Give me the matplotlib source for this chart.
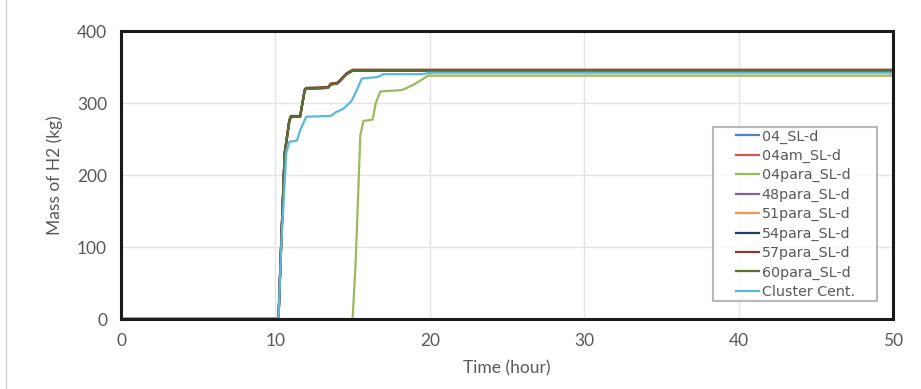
import matplotlib
matplotlib.use("Agg")
import matplotlib.pyplot as plt
from matplotlib.lines import Line2D
from matplotlib.path import Path

plt.rcParams['font.family'] = ['Lato', 'DejaVu Sans']

# Data (time in hours, mass in kg)
t_main = [0, 10.2, 10.4, 10.6, 10.9, 11.0, 11.6, 11.9, 12.0, 13.4, 13.6, 14.0, 14.2, 14.6, 15.0, 50]
m_04 = [0, 0, 120, 230, 275, 281, 281, 318, 320, 321, 326, 327, 331, 340, 345, 345]
m_04am = [0, 0, 118, 228, 274, 280, 282, 317, 320, 322, 327, 328, 332, 341, 346, 346]
m_48para = [0, 0, 119, 229, 275, 281, 281, 318, 320, 321, 326, 327, 331, 340, 345, 345]
m_51para = [0, 0, 119, 229, 275, 281, 281, 318, 320, 321, 326, 327, 331, 340, 345, 345]
m_54para = [0, 0, 120, 230, 275, 281, 281, 318, 320, 321, 326, 327, 331, 340, 345, 345]
m_57para = [0, 0, 121, 231, 276, 282, 282, 319, 321, 322, 327, 328, 332, 341, 346, 346]
m_60para = [0, 0, 120, 230, 275, 281, 281, 318, 320, 321, 326, 327, 331, 340, 345, 345]

t_04para = [0, 15.0, 15.2, 15.5, 15.7, 16.3, 16.5, 16.8, 18.2, 18.6, 19.0, 19.9, 50]
m_04para = [0, 0, 80, 255, 275, 277, 300, 316, 318, 322, 326, 338, 338]

t_clust = [0, 10.2, 10.4, 10.7, 10.9, 11.4, 11.6, 12.0, 13.6, 13.9, 14.4, 14.9, 15.1, 15.6, 16.6, 17.0, 19.5, 20.0, 50]
m_clust = [0, 0, 110, 230, 246, 248, 262, 281, 282, 287, 292, 302, 310, 334, 336, 340, 340, 342, 342]

labels = ['04_SL-d', '04am_SL-d', '04para_SL-d', '48para_SL-d', '51para_SL-d',
          '54para_SL-d', '57para_SL-d', '60para_SL-d', 'Cluster Cent.']
colors = ['#4F81BD', '#D9534F', '#9BBB59', '#8064A2', '#F79646',
          '#1F3F6E', '#8B3A3A', '#5A7030', '#5BB8DB']

series = [(t_main, m_04), (t_main, m_04am), (t_04para, m_04para), (t_main, m_48para),
          (t_main, m_51para), (t_main, m_54para), (t_main, m_57para), (t_main, m_60para),
          (t_clust, m_clust)]

fig = plt.figure(figsize=(9.21, 3.89), dpi=100)
ax = fig.add_axes([121/921, 1-319/389, (893-121)/921, (319-31)/389])

for (t, m), lab, c in zip(series, labels, colors):
    ax.plot(t, m, color=c, lw=1.6, label=lab)

ax.set_xlim(0, 50)
ax.set_ylim(0, 400)
ax.set_xticks([0, 10, 20, 30, 40, 50])
ax.set_yticks([0, 100, 200, 300, 400])
ax.grid(True, color='#e4e4e4', lw=1)
ax.set_axisbelow(True)
for s in ax.spines.values():
    s.set_linewidth(2.2)
    s.set_color('#1a1a1a')
ax.tick_params(length=0, labelsize=12.5, colors='#595959', pad=10)
ax.set_xlabel('Time (hour)', fontsize=12.5, color='#595959', labelpad=8)
ax.set_ylabel('Mass of H2 (kg)', fontsize=12.5, color='#595959', labelpad=10)

leg = ax.legend(loc='lower right', bbox_to_anchor=(0.953, 0.0625),
                prop={'family': ['DejaVu Sans'], 'size': 10.3},
                frameon=True, fancybox=False, handlelength=1.65, handletextpad=0.15,
                labelspacing=0.37, borderpad=0.15, borderaxespad=0)


def hpad_box(x0, y0, width, height, mutation_size):
    px = 1.43 * mutation_size
    return Path([(x0 - px, y0), (x0 + width + px, y0), (x0 + width + px, y0 + height),
                 (x0 - px, y0 + height), (x0 - px, y0)], closed=True)


leg.get_frame().set_boxstyle(hpad_box)
leg.get_frame().set_edgecolor('#a6a6a6')
leg.get_frame().set_linewidth(1.5)
for txt in leg.get_texts():
    txt.set_color('#595959')

fig.add_artist(Line2D([6/921, 6/921], [0, 1], color='#d0d0d0', lw=1))

fig.savefig('out.png', dpi=100)
